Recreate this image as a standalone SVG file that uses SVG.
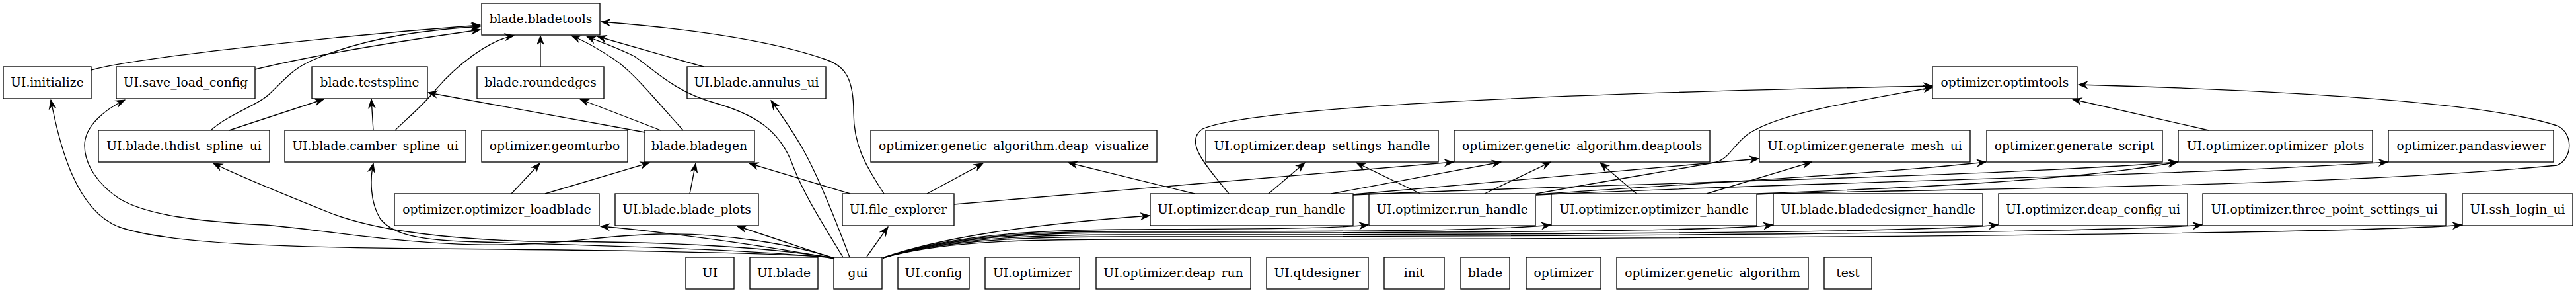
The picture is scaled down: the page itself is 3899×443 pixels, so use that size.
<svg xmlns="http://www.w3.org/2000/svg" width="3899" height="443" viewBox="0 0 3899 443">
<style>
.n rect{fill:none;stroke:#000;stroke-width:1.33}
.n text{font-family:"DejaVu Serif","Liberation Serif",serif;font-size:18.67px;text-anchor:middle;fill:#000}
#edges path{fill:none;stroke:#000;stroke-width:1.33;marker-end:url(#v)}
</style>
<defs>
<marker id="v" markerUnits="userSpaceOnUse" markerWidth="14" markerHeight="10" refX="13" refY="5" orient="auto" overflow="visible">
<path d="M0,0 L13,5 L0,10 L4,5 z" fill="#000" stroke="#000" stroke-width="1"/>
</marker>
</defs>
<rect width="3899" height="443" fill="#fff"/>
<g id="edges">
<path d="M138,106 C200,88 500,55 727,38"/>
<path d="M386,105 C480,82 620,60 727,45"/>
<path d="M319,197 C350,170 390,160 410,140 C440,110 450,100 480,88 C560,55 650,45 727,40"/>
<path d="M347,197 L490,150"/>
<path d="M565,197 L562,150"/>
<path d="M598,197 C615,180 640,160 660,135 C690,100 740,60 778,54"/>
<path d="M818,101 L818,54"/>
<path d="M1034,197 C1000,160 960,110 930,90 C900,70 880,60 865,54"/>
<path d="M976,200 L648,140"/>
<path d="M1000,197 L878,150"/>
<path d="M1065,101 L904,55"/>
<path d="M1276,389 C1240,330 1215,290 1200,250 C1180,195 1140,172 1080,155 C1020,138 990,105 960,85 C930,70 905,62 888,55"/>
<path d="M1286,389 C1260,320 1235,260 1215,225 C1198,195 1180,170 1167,152"/>
<path d="M1338,293 C1310,250 1292,220 1292,170 C1292,120 1280,100 1250,90 C1150,55 1000,40 910,33"/>
<path d="M1287,293 L1134,247"/>
<path d="M1403,293 L1488,247"/>
<path d="M1444,309 L2200,245"/>
<path d="M774,293 L817,247"/>
<path d="M825,293 L983,246"/>
<path d="M1044,293 L1053,247"/>
<path d="M1312,388 L1344,343"/>
<path d="M1262,391 C1150,370 1000,350 909,342"/>
<path d="M1263,391 C1200,370 1160,356 1116,342"/>
<path d="M1262,389 C1150,381 900,378 650,376 C420,374 250,368 180,343 C115,318 90,220 77,151"/>
<path d="M1262,390 C1200,370 1100,352 1000,354 C900,356 850,372 720,370 C600,368 470,345 400,340 C300,335 220,325 180,300 C150,280 128,250 128,220 C128,190 160,165 189,151"/>
<path d="M1262,390 C1150,372 1000,365 800,365 C650,360 560,345 500,322 C420,290 360,265 323,247"/>
<path d="M1262,390 C1100,375 900,372 700,365 C620,362 590,350 575,330 C560,305 560,270 565,247"/>
<path d="M1808,293 L1617,246"/>
<path d="M1860,293 C1830,255 1790,215 1820,195 C1900,160 2400,140 2925,130"/>
<path d="M1920,293 L1975,246"/>
<path d="M2015,293 L2272,245"/>
<path d="M2150,293 L2053,246"/>
<path d="M2247,293 L2347,245"/>
<path d="M2325,293 C2450,270 2560,253 2598,245 C2620,238 2625,215 2650,200 C2700,170 2800,155 2925,132"/>
<path d="M2477,293 L2422,246"/>
<path d="M2583,293 L2742,245"/>
<path d="M3343,197 L3137,150"/>
<path d="M2659,294 C2900,285 3500,285 3870,250 C3895,240 3895,200 3870,190 C3750,150 3400,135 3146,128"/>
<path d="M2048,294 C2300,270 2500,255 2662,240"/>
<path d="M2048,295 C2400,278 3000,268 3296,245"/>
<path d="M2325,294 C2600,275 2850,262 3006,245"/>
<path d="M2325,295 C2700,276 3300,266 3614,245"/>
<path d="M2659,293 C2900,284 3150,272 3296,245"/>
<path d="M1336,390 C1420,360 1550,340 1740,326"/>
<path d="M1336,390 C1420,362 1520,348 1700,347 C1900,346 2010,346 2071,340"/>
<path d="M1336,390 C1420,363 1520,350 1700,350 C2000,350 2250,350 2347,340"/>
<path d="M1336,390 C1420,364 1520,352 1700,352 C2200,352 2600,350 2683,340"/>
<path d="M1336,390 C1420,365 1520,355 1700,355 C2300,355 2900,352 3024,340"/>
<path d="M1336,390 C1420,366 1520,358 1700,358 C2400,358 3200,352 3333,340"/>
<path d="M1336,390 C1420,367 1520,362 1700,362 C2500,362 3550,355 3726,340"/>
</g>
<g id="blade_bladetools" class="n"><rect x="729" y="5" width="179" height="48"/><text x="818.5" y="34.5">blade.bladetools</text></g>
<g id="UI_initialize" class="n"><rect x="5" y="101" width="133" height="48"/><text x="71.5" y="130.5">UI.initialize</text></g>
<g id="UI_save_load_config" class="n"><rect x="176" y="101" width="210" height="48"/><text x="281" y="130.5">UI.save_load_config</text></g>
<g id="blade_testspline" class="n"><rect x="472" y="101" width="175" height="48"/><text x="559.5" y="130.5">blade.testspline</text></g>
<g id="blade_roundedges" class="n"><rect x="722" y="101" width="192" height="48"/><text x="818" y="130.5">blade.roundedges</text></g>
<g id="UI_blade_annulus_ui" class="n"><rect x="1040" y="101" width="210" height="48"/><text x="1145" y="130.5">UI.blade.annulus_ui</text></g>
<g id="optimizer_optimtools" class="n"><rect x="2925" y="101" width="219" height="48"/><text x="3034.5" y="130.5">optimizer.optimtools</text></g>
<g id="UI_blade_thdist_spline_ui" class="n"><rect x="149" y="197" width="259" height="48"/><text x="278.5" y="226.5">UI.blade.thdist_spline_ui</text></g>
<g id="UI_blade_camber_spline_ui" class="n"><rect x="431" y="197" width="274" height="48"/><text x="568" y="226.5">UI.blade.camber_spline_ui</text></g>
<g id="optimizer_geomturbo" class="n"><rect x="729" y="197" width="221" height="48"/><text x="839.5" y="226.5">optimizer.geomturbo</text></g>
<g id="blade_bladegen" class="n"><rect x="975" y="197" width="167" height="48"/><text x="1058.5" y="226.5">blade.bladegen</text></g>
<g id="optimizer_genetic_algorithm_deap_visualize" class="n"><rect x="1318" y="197" width="433" height="48"/><text x="1534.5" y="226.5">optimizer.genetic_algorithm.deap_visualize</text></g>
<g id="UI_optimizer_deap_settings_handle" class="n"><rect x="1825" y="197" width="352" height="48"/><text x="2001" y="226.5">UI.optimizer.deap_settings_handle</text></g>
<g id="optimizer_genetic_algorithm_deaptools" class="n"><rect x="2201" y="197" width="387" height="48"/><text x="2394.5" y="226.5">optimizer.genetic_algorithm.deaptools</text></g>
<g id="UI_optimizer_generate_mesh_ui" class="n"><rect x="2663" y="197" width="319" height="48"/><text x="2822.5" y="226.5">UI.optimizer.generate_mesh_ui</text></g>
<g id="optimizer_generate_script" class="n"><rect x="3007" y="197" width="266" height="48"/><text x="3140" y="226.5">optimizer.generate_script</text></g>
<g id="UI_optimizer_optimizer_plots" class="n"><rect x="3297" y="197" width="294" height="48"/><text x="3444" y="226.5">UI.optimizer.optimizer_plots</text></g>
<g id="optimizer_pandasviewer" class="n"><rect x="3615" y="197" width="250" height="48"/><text x="3740" y="226.5">optimizer.pandasviewer</text></g>
<g id="optimizer_optimizer_loadblade" class="n"><rect x="597" y="293" width="310" height="48"/><text x="752" y="322.5">optimizer.optimizer_loadblade</text></g>
<g id="UI_blade_blade_plots" class="n"><rect x="931" y="293" width="217" height="48"/><text x="1039.5" y="322.5">UI.blade.blade_plots</text></g>
<g id="UI_file_explorer" class="n"><rect x="1275" y="293" width="169" height="48"/><text x="1359.5" y="322.5">UI.file_explorer</text></g>
<g id="UI_optimizer_deap_run_handle" class="n"><rect x="1741" y="293" width="307" height="48"/><text x="1894.5" y="322.5">UI.optimizer.deap_run_handle</text></g>
<g id="UI_optimizer_run_handle" class="n"><rect x="2072" y="293" width="252" height="48"/><text x="2198" y="322.5">UI.optimizer.run_handle</text></g>
<g id="UI_optimizer_optimizer_handle" class="n"><rect x="2348" y="293" width="311" height="48"/><text x="2503.5" y="322.5">UI.optimizer.optimizer_handle</text></g>
<g id="UI_blade_bladedesigner_handle" class="n"><rect x="2684" y="293" width="317" height="48"/><text x="2842.5" y="322.5">UI.blade.bladedesigner_handle</text></g>
<g id="UI_optimizer_deap_config_ui" class="n"><rect x="3025" y="293" width="286" height="48"/><text x="3168" y="322.5">UI.optimizer.deap_config_ui</text></g>
<g id="UI_optimizer_three_point_settings_ui" class="n"><rect x="3334" y="293" width="368" height="48"/><text x="3518" y="322.5">UI.optimizer.three_point_settings_ui</text></g>
<g id="UI_ssh_login_ui" class="n"><rect x="3727" y="293" width="167" height="48"/><text x="3810.5" y="322.5">UI.ssh_login_ui</text></g>
<g id="UI" class="n"><rect x="1038" y="389" width="73" height="48"/><text x="1074.5" y="418.5">UI</text></g>
<g id="UI_blade" class="n"><rect x="1135" y="389" width="103" height="48"/><text x="1186.5" y="418.5">UI.blade</text></g>
<g id="gui" class="n"><rect x="1262" y="389" width="73" height="48"/><text x="1298.5" y="418.5">gui</text></g>
<g id="UI_config" class="n"><rect x="1359" y="389" width="108" height="48"/><text x="1413" y="418.5">UI.config</text></g>
<g id="UI_optimizer" class="n"><rect x="1491" y="389" width="143" height="48"/><text x="1562.5" y="418.5">UI.optimizer</text></g>
<g id="UI_optimizer_deap_run" class="n"><rect x="1659" y="389" width="234" height="48"/><text x="1776" y="418.5">UI.optimizer.deap_run</text></g>
<g id="UI_qtdesigner" class="n"><rect x="1917" y="389" width="154" height="48"/><text x="1994" y="418.5">UI.qtdesigner</text></g>
<g id="init" class="n"><rect x="2095" y="389" width="91" height="48"/><text x="2140.5" y="418.5">__init__</text></g>
<g id="blade" class="n"><rect x="2211" y="389" width="74" height="48"/><text x="2248" y="418.5">blade</text></g>
<g id="optimizer" class="n"><rect x="2310" y="389" width="113" height="48"/><text x="2366.5" y="418.5">optimizer</text></g>
<g id="optimizer_genetic_algorithm" class="n"><rect x="2447" y="389" width="290" height="48"/><text x="2592" y="418.5">optimizer.genetic_algorithm</text></g>
<g id="test" class="n"><rect x="2761" y="389" width="72" height="48"/><text x="2797" y="418.5">test</text></g>
</svg>
